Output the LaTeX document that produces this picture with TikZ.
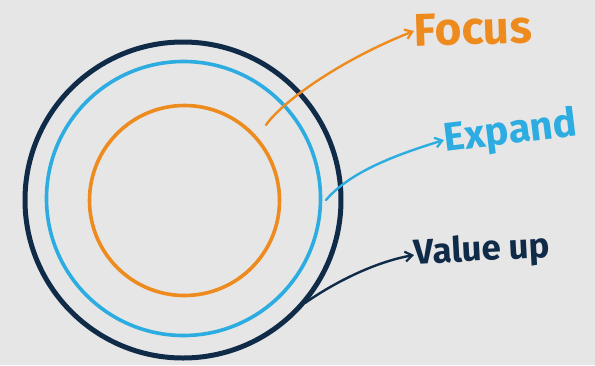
\documentclass[tikz,border=0pt]{standalone}
\usepackage{fontspec}
\setmainfont{Fira Sans}
\usetikzlibrary{arrows.meta}
\definecolor{bgc}{HTML}{E6E6E6}
\definecolor{orng}{HTML}{EE8B1E}
\definecolor{skyb}{HTML}{2CACE0}
\definecolor{navy}{HTML}{0F2B48}
\tikzset{
  ring/.style={circle, draw, inner sep=0pt},
  lbl/.style={inner sep=0pt, anchor=west},
  pointer/.style={line width=2.4pt, line cap=round, -{Straight Barb[length=7pt,width=10pt,line width=2.2pt]}}
}
\begin{document}
\begin{tikzpicture}[x=1pt,y=-1pt]
\fill[bgc] (0,0) rectangle (595,365);
\useasboundingbox (0,0) rectangle (595,365);
\node[ring, navy, line width=5pt, minimum size=316pt] (outer) at (183,200) {};
\node[ring, skyb, line width=3.6pt, minimum size=274pt] (mid) at (183.5,198.5) {};
\node[ring, orng, line width=3.6pt, minimum size=190pt] (inner) at (184.5,200.5) {};
\coordinate (fs) at (266,125);
\coordinate (es) at (326,200);
\coordinate (vs) at (305,303);
\node[lbl, orng, font=\fontsize{46}{48}\selectfont\bfseries, rotate=2] (focus) at (414,31) {Focus};
\node[lbl, skyb, font=\fontsize{40}{42}\selectfont\bfseries, rotate=7] (expand) at (444,141) {Expand};
\node[lbl, navy, font=\fontsize{35}{37}\selectfont\bfseries, rotate=3] (value) at (414,255) {Value up};
\draw[pointer, orng] (fs) .. controls (282,102) and (340,60) .. (focus.west);
\draw[pointer, skyb] (es) .. controls (350,172) and (395,155) .. ([yshift=1pt]expand.west);
\draw[pointer, navy] (vs) .. controls (335,282) and (375,262) .. (value.west);
\end{tikzpicture}
\end{document}
